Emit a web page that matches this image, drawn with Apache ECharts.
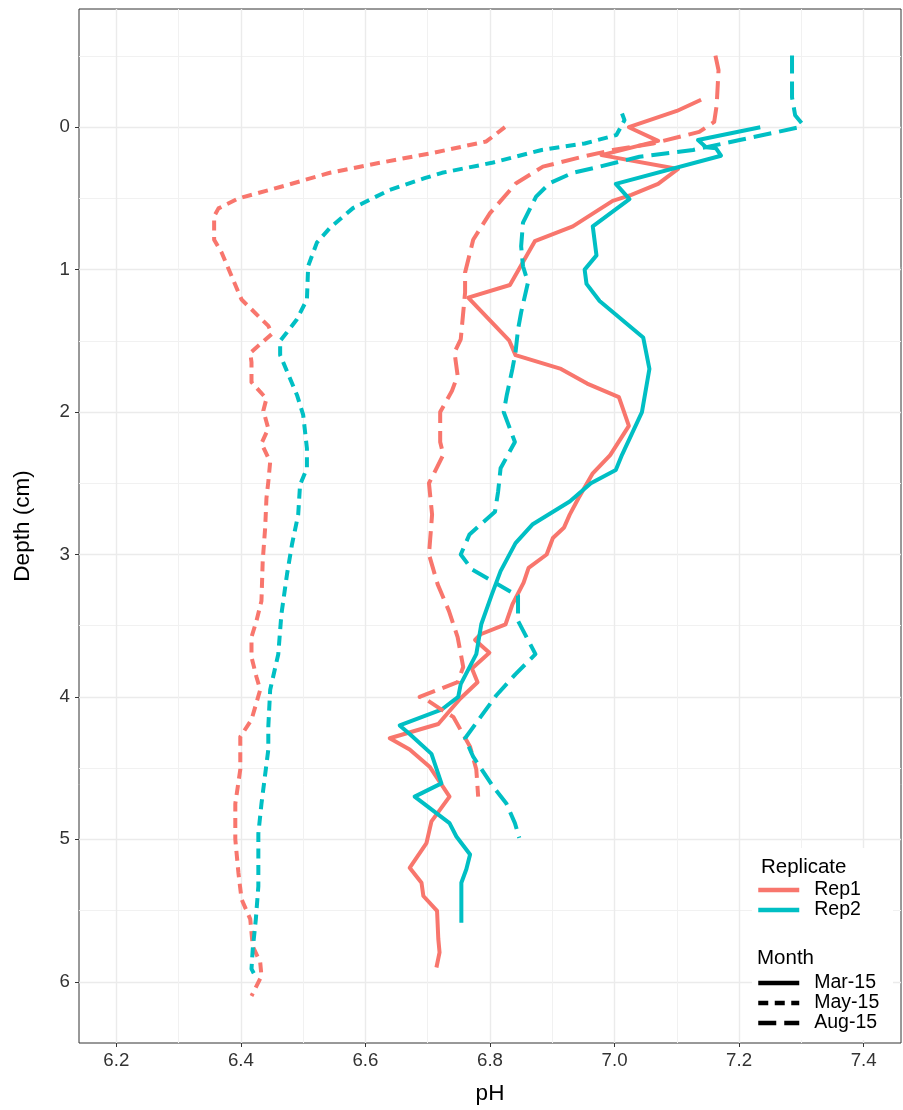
<!DOCTYPE html>
<html>
<head>
<meta charset="utf-8">
<script src="https://cdn.jsdelivr.net/npm/echarts@6/dist/echarts.min.js"></script>
<style>
  html, body { margin: 0; padding: 0; background: #fff; }
  #chart { width: 903px; height: 1110px; }
</style>
</head>
<body>
<div id="chart"></div>
<script>
// ---- tick labels / grid positions ----
const xTicks = [6.2, 6.4, 6.6, 6.8, 7.0, 7.2, 7.4];
const xMinor = [6.3, 6.5, 6.7, 6.9, 7.1, 7.3];
const yTicks = [0, 1, 2, 3, 4, 5, 6];
const yMinor = [-0.5, 0.5, 1.5, 2.5, 3.5, 4.5, 5.5];

// ---- categories ----
const replicates = ['Rep1', 'Rep2'];
const months = ['Mar-15', 'May-15', 'Aug-15'];

// ---- Mar-15 ----
const marRep1Depth = [-0.193,-0.114,0.0,0.096,0.196,0.293,0.398,0.475,0.517,0.696,0.80,1.108,1.196,1.499,1.60,1.697,1.80,1.895,2.097,2.302,2.43,2.605,2.72,2.81,2.884,3.0,3.094,3.198,3.35,3.49,3.56,3.60,3.69,3.80,3.897,4.013,4.19,4.29,4.37,4.49,4.595,4.70,4.874,5.026,5.20,5.305,5.398,5.503,5.70,5.794,5.90];
const marRep1PH    = [7.139,7.100,7.023,7.070,6.979,7.102,7.070,7.027,6.997,6.933,6.872,6.832,6.765,6.831,6.841,6.914,6.956,7.007,7.023,6.993,6.965,6.942,6.928,6.919,6.901,6.891,6.862,6.854,6.836,6.825,6.785,6.776,6.799,6.771,6.780,6.752,6.717,6.639,6.671,6.703,6.719,6.735,6.706,6.698,6.671,6.690,6.693,6.715,6.717,6.719,6.714];

const marRep2Depth = [0.0,0.09,0.14,0.148,0.20,0.398,0.505,0.696,0.90,1.0,1.10,1.22,1.476,1.697,2.0,2.30,2.407,2.5,2.628,2.79,2.92,3.117,3.28,3.49,3.70,3.91,4.0,4.09,4.20,4.26,4.40,4.607,4.70,4.886,4.98,5.107,5.21,5.305,5.585];
const marRep2PH    = [7.234,7.134,7.147,7.163,7.171,7.002,7.024,6.965,6.971,6.952,6.955,6.976,7.046,7.056,7.044,7.012,7.002,6.962,6.928,6.868,6.841,6.817,6.803,6.786,6.778,6.753,6.749,6.722,6.655,6.671,6.706,6.722,6.679,6.735,6.746,6.768,6.762,6.754,6.754];

// ---- May-15 ----
const mayRep1Depth = [0.0,0.10,0.18,0.25,0.32,0.42,0.50,0.57,0.626,0.79,0.88,1.045,1.21,1.395,1.45,1.585,1.65,1.79,1.906,1.99,2.116,2.22,2.35,2.49,2.605,2.81,3.047,3.326,3.466,3.58,3.72,3.86,3.95,4.16,4.28,4.51,4.75,5.0,5.235,5.42,5.56,5.75,5.864,5.96,6.1];
const mayRep1PH    = [6.824,6.794,6.709,6.623,6.543,6.463,6.396,6.364,6.357,6.357,6.369,6.385,6.401,6.444,6.450,6.415,6.417,6.417,6.441,6.436,6.444,6.433,6.447,6.444,6.441,6.439,6.435,6.433,6.425,6.417,6.417,6.425,6.431,6.417,6.399,6.399,6.391,6.391,6.396,6.401,6.415,6.419,6.431,6.433,6.417];

const mayRep2Depth = [-0.096,-0.05,0.055,0.114,0.16,0.25,0.32,0.358,0.44,0.568,0.707,0.81,0.975,1.21,1.348,1.44,1.50,1.60,1.88,2.02,2.255,2.395,2.51,2.72,2.93,3.14,3.42,3.70,3.95,4.21,4.37,4.75,4.96,5.33,5.56,5.77,5.91,5.96];
const mayRep2PH    = [7.012,7.016,7.003,6.952,6.883,6.803,6.723,6.695,6.639,6.580,6.543,6.522,6.508,6.506,6.490,6.474,6.463,6.463,6.490,6.500,6.506,6.506,6.495,6.492,6.482,6.474,6.465,6.460,6.447,6.444,6.444,6.433,6.428,6.428,6.424,6.419,6.417,6.423];

// ---- Aug-15 ----
const augRep1Depth = [-0.503,-0.40,-0.154,-0.037,0.033,0.114,0.16,0.207,0.277,0.393,0.603,0.79,1.02,1.16,1.49,1.58,1.744,1.85,2.0,2.21,2.30,2.50,2.72,3.0,3.21,3.396,3.58,3.79,3.897,4.0,4.02,4.08,4.14,4.35,4.51,4.70];
const augRep1PH    = [7.162,7.167,7.164,7.160,7.136,7.062,6.997,6.949,6.885,6.842,6.800,6.773,6.760,6.760,6.753,6.743,6.748,6.739,6.720,6.720,6.725,6.702,6.707,6.702,6.716,6.734,6.748,6.757,6.748,6.687,6.698,6.719,6.741,6.768,6.778,6.781];

const augRep2Depth = [-0.503,-0.21,-0.084,-0.026,0.0,0.09,0.16,0.207,0.277,0.32,0.393,0.487,0.67,0.836,0.976,1.09,1.30,1.42,1.58,1.697,1.88,2.0,2.21,2.395,2.56,2.70,2.86,3.0,3.105,3.256,3.29,3.466,3.70,3.84,3.99,4.29,4.42,4.63,4.746,4.886,4.99];
const augRep2PH    = [7.285,7.285,7.290,7.301,7.297,7.201,7.126,7.040,6.976,6.933,6.896,6.874,6.853,6.850,6.853,6.861,6.850,6.845,6.841,6.836,6.827,6.822,6.840,6.817,6.813,6.808,6.767,6.753,6.771,6.831,6.845,6.845,6.873,6.841,6.810,6.760,6.773,6.805,6.826,6.840,6.847];

// ---- styles ----
const FONT = '"Liberation Sans", Arial, Helvetica, sans-serif';
const repColor = { Rep1: '#F8766D', Rep2: '#00BFC4' };
const monthDash = { 'Mar-15': 'solid', 'May-15': [10, 6.5], 'Aug-15': [18, 8] };
const LW = 4;

function zip(ph, depth) { return ph.map((v, i) => [v, depth[i]]); }

const dataSets = [
  ['Rep1', 'Mar-15', marRep1PH, marRep1Depth],
  ['Rep2', 'Mar-15', marRep2PH, marRep2Depth],
  ['Rep1', 'May-15', mayRep1PH, mayRep1Depth],
  ['Rep2', 'May-15', mayRep2PH, mayRep2Depth],
  ['Rep1', 'Aug-15', augRep1PH, augRep1Depth],
  ['Rep2', 'Aug-15', augRep2PH, augRep2Depth]
];

const series = dataSets.map(([rep, mon, ph, d]) => ({
  name: rep + ' ' + mon,
  type: 'line',
  xAxisIndex: 0, yAxisIndex: 0,
  data: zip(ph, d),
  symbol: 'none',
  showSymbol: false,
  smooth: false,
  z: 3,
  lineStyle: { color: repColor[rep], width: LW, type: monthDash[mon], cap: 'butt', join: 'round' },
  emphasis: { disabled: true }
}));

// legend-only series
replicates.forEach(r => series.push({
  name: r, type: 'line', data: [], symbol: 'none',
  lineStyle: { color: repColor[r], width: LW, type: 'solid' },
  itemStyle: { color: repColor[r] }
}));
months.forEach(m => series.push({
  name: m, type: 'line', data: [], symbol: 'none',
  lineStyle: { color: '#000', width: LW, type: monthDash[m] },
  itemStyle: { color: '#000' }
}));

const legendCommon = {
  orient: 'vertical', left: 756, padding: 0,
  itemWidth: 41, itemHeight: 14, itemGap: 0,
  selectedMode: false,
  lineStyle: { width: 4.5 },
  itemStyle: { opacity: 0, color: 'transparent', borderWidth: 0 },
  textStyle: { fontSize: 19.5, color: '#000', fontFamily: FONT, lineHeight: 20, padding: [0, 0, 0, 10] }
};

const chart = echarts.init(document.getElementById('chart'), null, { renderer: 'canvas' });
chart.setOption({
  animation: false,
  backgroundColor: '#fff',
  grid: { left: 79, right: 2, top: 9, bottom: 62, show: true, borderColor: '#333333', borderWidth: 1, backgroundColor: 'transparent' },
  xAxis: [
    {
      type: 'value', min: 6.14, max: 7.46, position: 'bottom',
      axisLine: { show: false, onZero: false },
      axisTick: { show: true, customValues: xTicks, length: 4, lineStyle: { color: '#333333', width: 1 } },
      axisLabel: { customValues: xTicks, formatter: v => v.toFixed(1), color: '#333333', fontSize: 18.7, margin: 8, fontFamily: FONT },
      splitLine: { show: true, lineStyle: { color: '#EBEBEB', width: 1.4 } },
      name: 'pH', nameLocation: 'middle', nameGap: 39,
      nameTextStyle: { fontSize: 22.5, color: '#000', fontFamily: FONT }
    },
    {
      type: 'value', min: 6.14, max: 7.46, position: 'top',
      axisLine: { show: false, onZero: false },
      axisTick: { show: false, customValues: xMinor },
      axisLabel: { show: false, customValues: xMinor },
      splitLine: { show: true, lineStyle: { color: '#F1F1F1', width: 1 } }
    }
  ],
  yAxis: [
    {
      type: 'value', inverse: true, min: -0.83, max: 6.43, position: 'left',
      axisLine: { show: false, onZero: false },
      axisTick: { show: true, customValues: yTicks, length: 4, lineStyle: { color: '#333333', width: 1 } },
      axisLabel: { customValues: yTicks, formatter: v => String(v), color: '#333333', fontSize: 18.7, margin: 9, fontFamily: FONT },
      splitLine: { show: true, lineStyle: { color: '#EBEBEB', width: 1.4 } },
      name: 'Depth (cm)', nameLocation: 'middle', nameGap: 45, nameRotate: 90,
      nameTextStyle: { fontSize: 22.5, color: '#000', fontFamily: FONT }
    },
    {
      type: 'value', inverse: true, min: -0.83, max: 6.43, position: 'right',
      axisLine: { show: false, onZero: false },
      axisTick: { show: false, customValues: yMinor },
      axisLabel: { show: false, customValues: yMinor },
      splitLine: { show: true, lineStyle: { color: '#F1F1F1', width: 1 } }
    }
  ],
  legend: [
    Object.assign({}, legendCommon, { top: 880, data: replicates }),
    Object.assign({}, legendCommon, { top: 973, data: months })
  ],
  graphic: [
    { type: 'rect', z: 3, shape: { x: 752, y: 848, width: 141, height: 192 }, style: { fill: '#fff' }, silent: true },
    { type: 'text', z: 5, style: { x: 761, y: 867, text: 'Replicate', fill: '#000', font: '20.5px ' + FONT, textVerticalAlign: 'middle', verticalAlign: 'middle' } },
    { type: 'text', z: 5, style: { x: 757, y: 958, text: 'Month', fill: '#000', font: '20.5px ' + FONT, textVerticalAlign: 'middle', verticalAlign: 'middle' } }
  ],
  series: series
});
</script>
</body>
</html>
